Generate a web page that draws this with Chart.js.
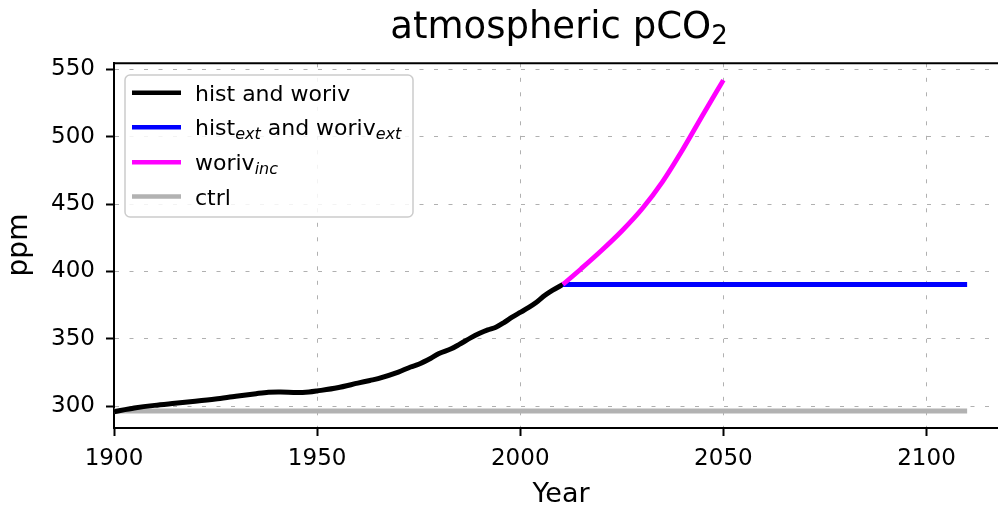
<!DOCTYPE html>
<html>
<head>
<meta charset="utf-8">
<script src="https://cdn.jsdelivr.net/npm/chart.js@4.4.1/dist/chart.umd.min.js"></script>
<style>
html,body{margin:0;padding:0;background:#fff;overflow:hidden;}
#wrap{position:relative;width:998px;height:507px;}
</style>
</head>
<body>
<div id="wrap"><canvas id="c" width="998" height="507"></canvas></div>
<script>
// ---- data ----
const histYears = [1900,1905,1910,1915,1920,1925,1930,1935,1938,1941,1945,1948,1950,1955,1960,1963,1965,1970,1973,1975,1978,1980,1983,1985,1988,1990,1992,1994,1996,1998,2000,2002,2004,2006,2008,2010.5];
const histPpm   = [295.8,298.5,300.5,302,303.5,305.2,307.3,309.2,310.2,310.4,310.0,310.4,311.2,313.6,317,319,320.3,325.2,329,331,335.5,339,342.5,345.8,351,354,356.5,358.5,362,366,369.5,373,377,382,386,390.3];
const extYears  = [2010.5, 2110];
const extPpm    = [390.3, 390.3];
const incYears  = [2010.5,2015,2020,2025,2030,2035,2040,2045,2050];
const incPpm    = [390.3,402,415.5,430,446.5,466.5,490.5,516.5,542];
const ctrlYears = [1900, 2110];
const ctrlPpm   = [296.3, 296.3];
const xTicks = [1900,1950,2000,2050,2100];
const yTicks = [300,350,400,450,500,550];

const FONT = "'DejaVu Sans', sans-serif";
const pts = (xs, ys) => xs.map((x, i) => ({x: x, y: ys[i]}));

const overlay = {
  id: 'overlay',
  afterDraw(chart) {
    const ctx = chart.ctx, a = chart.chartArea;
    ctx.save();
    // top spine
    ctx.strokeStyle = '#000'; ctx.lineWidth = 2;
    ctx.beginPath(); ctx.moveTo(a.left - 1, a.top); ctx.lineTo(a.right, a.top); ctx.stroke();
    // title
    ctx.fillStyle = '#000';
    ctx.textBaseline = 'alphabetic'; ctx.textAlign = 'left';
    const t1 = 'atmospheric pCO';
    ctx.font = "37px " + FONT;
    const w1 = ctx.measureText(t1).width;
    ctx.font = "26px " + FONT;
    const w2 = ctx.measureText('2').width;
    const tx = 559 - (w1 + w2) / 2;
    ctx.font = "37px " + FONT;
    ctx.fillText(t1, tx, 38);
    ctx.font = "26px " + FONT;
    ctx.fillText('2', tx + w1, 44);
    // axis titles
    ctx.font = "27px " + FONT;
    ctx.textAlign = 'center';
    ctx.fillText('Year', 561, 501.5);
    ctx.save();
    ctx.font = "28px " + FONT;
    ctx.translate(26.5, 245);
    ctx.rotate(-Math.PI / 2);
    ctx.fillText('ppm', 0, 0);
    ctx.restore();
    // legend
    const lx = 125, ly = 75, lw = 288, lh = 142, r = 5;
    ctx.fillStyle = 'rgba(255,255,255,0.85)';
    ctx.strokeStyle = '#cccccc'; ctx.lineWidth = 1.5;
    ctx.beginPath();
    ctx.roundRect(lx, ly, lw, lh, r);
    ctx.fill(); ctx.stroke();
    const rows = [
      {color: '#000000', parts: [['hist and woriv', 0]]},
      {color: '#0000ff', parts: [['hist', 0], ['ext', 1], [' and woriv', 0], ['ext', 1]]},
      {color: '#ff00ff', parts: [['woriv', 0], ['inc', 1]]},
      {color: '#b2b2b2', parts: [['ctrl', 0]]}
    ];
    const rowY = [92.7, 127.3, 162.3, 196.5];
    rows.forEach((row, i) => {
      const y = rowY[i];
      ctx.strokeStyle = row.color; ctx.lineWidth = 4.5; ctx.lineCap = 'butt';
      ctx.beginPath(); ctx.moveTo(132, y); ctx.lineTo(181, y); ctx.stroke();
      let x = 195;
      ctx.fillStyle = '#000'; ctx.textAlign = 'left';
      row.parts.forEach(([txt, sub]) => {
        ctx.font = sub ? ("italic 16px " + FONT) : ("22px " + FONT);
        ctx.fillText(txt, x, y + 8 + (sub ? 3.5 : 0));
        x += ctx.measureText(txt).width;
      });
    });
    ctx.restore();
  }
};

const chart = new Chart(document.getElementById('c'), {
  type: 'line',
  data: {
    datasets: [
      {label: 'ctrl', data: pts(ctrlYears, ctrlPpm), borderColor: '#b2b2b2', borderWidth: 5, order: 4},
      {label: 'hist and woriv', data: pts(histYears, histPpm), borderColor: '#000000', borderWidth: 5, tension: 0.3, order: 3},
      {label: 'hist_ext and woriv_ext', data: pts(extYears, extPpm), borderColor: '#0000ff', borderWidth: 5, order: 2},
      {label: 'woriv_inc', data: pts(incYears, incPpm), borderColor: '#ff00ff', borderWidth: 4.8, cubicInterpolationMode: 'monotone', order: 1}
    ]
  },
  options: {
    responsive: false,
    animation: false,
    devicePixelRatio: 1,
    elements: {point: {radius: 0, hoverRadius: 0}, line: {fill: false}},
    layout: {padding: {top: 63.3, right: 0, left: 0, bottom: 0}},
    plugins: {legend: {display: false}, title: {display: false}, tooltip: {enabled: false}},
    scales: {
      x: {
        type: 'linear', min: 1900, max: 2117.6,
        afterFit(s) { s.height = 79; },
        afterBuildTicks(s) { s.ticks = xTicks.map(v => ({value: v})); },
        ticks: {font: {family: FONT, size: 23}, color: '#000', padding: 9, maxRotation: 0, includeBounds: false, callback: v => String(v)},
        grid: {color: '#b0b0b0', lineWidth: 1, tickColor: '#000', tickWidth: 2, tickLength: 8},
        border: {display: true, color: '#000', width: 2, dash: [4, 10.5]}
      },
      y: {
        type: 'linear', min: 283.7, max: 554.5,
        afterFit(s) { s.width = 114; },
        afterBuildTicks(s) { s.ticks = yTicks.map(v => ({value: v})); },
        ticks: {font: {family: FONT, size: 23}, color: '#000', padding: 11, includeBounds: false, callback: v => String(v)},
        grid: {color: '#b0b0b0', lineWidth: 1, tickColor: '#000', tickWidth: 2, tickLength: 8},
        border: {display: true, color: '#000', width: 2, dash: [4, 10.5]}
      }
    }
  },
  plugins: [overlay]
});
</script>
</body>
</html>
